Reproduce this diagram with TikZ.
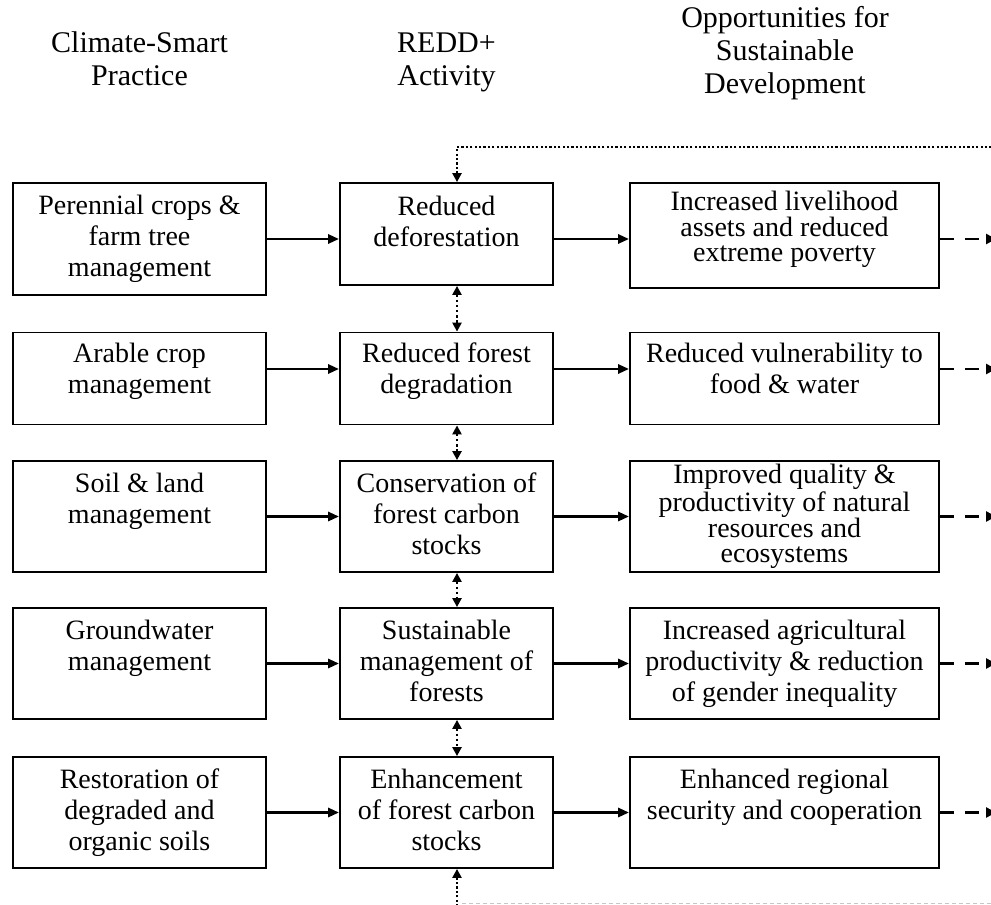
\documentclass[tikz,border=0pt]{standalone}
\usepackage{fontspec}
\setmainfont{Liberation Serif}
\usetikzlibrary{arrows.meta}

\begin{document}
\begin{tikzpicture}[x=0.5pt,y=-0.5pt,
  box/.style={draw,line width=0.9pt,align=center,inner sep=0pt,
    font=\fontsize{14}{15.5}\selectfont,text depth=3pt,minimum height=55.5pt},
  colA/.style={box,minimum width=126.5pt},
  colB/.style={box,minimum width=106.5pt},
  colC/.style={box,minimum width=154.5pt},
  tight/.style={font=\fontsize{14}{12.75}\selectfont},
  head/.style={align=center,font=\fontsize{15}{16.5}\selectfont,text depth=3pt},
  flow/.style={line width=1.4pt,-{Triangle[length=5.5pt,width=4.5pt]}},
  outflow/.style={line width=1.4pt,dash pattern=on 7pt off 5.5pt,
    -{Triangle[length=5pt,width=5pt]}},
  link/.style={line width=1.3pt,dash pattern=on 1.2pt off 1.4pt,
    {Triangle[length=4.5pt,width=4.5pt]}-{Triangle[length=4.5pt,width=4.5pt]}},
  feedback/.style={line width=1.2pt,dash pattern=on 1.1pt off 1.1pt,
    -{Triangle[length=4.5pt,width=4.5pt]}},
]
\useasboundingbox (0,0) rectangle (991,905);

%Intestazioni
\node[head] (hcsp) at (139.5,62) {Climate-Smart\\Practice};
\node[head] (hredd) at (446.5,62) {REDD+\\Activity};
\node[head] (hopp) at (785,53) {Opportunities for\\Sustainable\\Development};

%Colonna 1
\node[colA,minimum height=56pt] (csp1) at (139.5,239) {Perennial crops \&\\farm tree\\management};
\node[colA,minimum height=46pt,text depth=10.5pt] (csp2) at (139.5,378.5) {Arable crop\\management};
\node[colA,text depth=18.5pt] (csp3) at (139.5,516.5) {Soil \& land\\management};
\node[colA,text depth=18.5pt] (csp4) at (139.5,663.5) {Groundwater\\management};
\node[colA] (csp5) at (139.5,812.5) {Restoration of\\degraded and\\organic soils};

%Colonna 2
\node[colB,minimum height=51pt,text depth=13pt] (redd1) at (446.5,234) {Reduced\\deforestation};
\node[colB,minimum height=46pt,text depth=10.5pt] (redd2) at (446.5,378.5) {Reduced forest\\degradation};
\node[colB] (redd3) at (446.5,516.5) {Conservation of\\forest carbon\\stocks};
\node[colB] (redd4) at (446.5,663.5) {Sustainable\\management of\\forests};
\node[colB] (redd5) at (446.5,812.5) {Enhancement\\of forest carbon\\stocks};

%Colonna 3
\node[colC,tight,minimum height=52.5pt,text depth=8.8pt] (opp1) at (784.5,235.5) {Increased livelihood\\assets and reduced\\extreme poverty};
\node[colC,minimum height=46pt,text depth=10.5pt] (opp2) at (784.5,378.5) {Reduced vulnerability to\\food \& water};
\node[colC,tight] (opp3) at (784.5,516.5) {Improved quality \&\\productivity of natural\\resources and\\ecosystems};
\node[colC] (opp4) at (784.5,663.5) {Increased agricultural\\productivity \& reduction\\of gender inequality};
\node[colC,text depth=18.5pt] (opp5) at (784.5,812.5) {Enhanced regional\\security and cooperation};

\coordinate (rim) at (996,0);
\coordinate (loopT) at (457,147);
\coordinate (loopB) at (457,915);
\coordinate (base) at (462,903);
\path (csp1.east) coordinate (lane1);
\path ([yshift=4.75pt]csp2.east) coordinate (lane2);
\path (csp3.east) coordinate (lane3);
\path (csp4.east) coordinate (lane4);
\path (csp5.east) coordinate (lane5);

%Frecce orizzontali
\draw[flow] (lane1) -- (lane1 -| redd1.west);
\draw[flow] (lane1 -| redd1.east) -- (lane1 -| opp1.west);
\draw[outflow] (lane1 -| opp1.east) -- (lane1 -| rim);

\draw[flow] (lane2) -- (lane2 -| redd2.west);
\draw[flow] (lane2 -| redd2.east) -- (lane2 -| opp2.west);
\draw[outflow] (lane2 -| opp2.east) -- (lane2 -| rim);

\draw[flow] (lane3) -- (lane3 -| redd3.west);
\draw[flow] (lane3 -| redd3.east) -- (lane3 -| opp3.west);
\draw[outflow] (lane3 -| opp3.east) -- (lane3 -| rim);

\draw[flow] (lane4) -- (lane4 -| redd4.west);
\draw[flow] (lane4 -| redd4.east) -- (lane4 -| opp4.west);
\draw[outflow] (lane4 -| opp4.east) -- (lane4 -| rim);

\draw[flow] (lane5) -- (lane5 -| redd5.west);
\draw[flow] (lane5 -| redd5.east) -- (lane5 -| opp5.west);
\draw[outflow] (lane5 -| opp5.east) -- (lane5 -| rim);

%Frecce verticali
\draw[link] (redd1.south -| loopT) -- (redd2.north -| loopT);
\draw[link] (redd2.south -| loopT) -- (redd3.north -| loopT);
\draw[link] (redd3.south -| loopT) -- (redd4.north -| loopT);
\draw[link] (redd4.south -| loopT) -- (redd5.north -| loopT);

%Ritorno
\draw[feedback] (rim |- loopT) -- (loopT) -- (loopT |- redd1.north);
\draw[feedback] (loopB) -- (loopB |- redd5.south);
\draw[gray!45,line width=0.5pt,dash pattern=on 2pt off 1.5pt] (base) -- (rim |- base);

\end{tikzpicture}
\end{document}
